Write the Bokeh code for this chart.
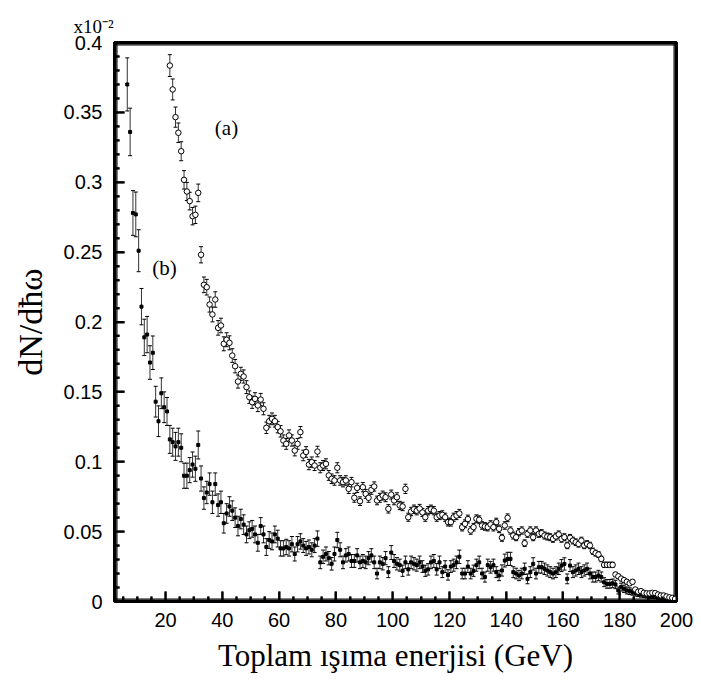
from bokeh.plotting import figure
from bokeh.models import Range1d, FixedTicker, Label, Title
from bokeh.embed import file_html
from bokeh.resources import INLINE

# ---------------- data (values in units of 10^-2) ----------------
a_energy = [21.5, 22.5, 23.5, 24.5, 25.5, 26.5, 27.5, 28.5, 29.5, 30.5,
            31.5, 32.5, 33.5, 34.5, 35.5, 36.5, 37.5, 38.5, 39.5, 40.5,
            41.5, 42.5, 43.5, 44.5, 45.5, 46.5, 47.5, 48.5, 49.5, 50.5,
            51.5, 52.5, 53.5, 54.5, 55.5, 56.5, 57.5, 58.5, 59.5, 60.5,
            61.5, 62.5, 63.5, 64.5, 65.5, 66.5, 67.5, 68.5, 69.5, 70.5,
            71.5, 72.5, 73.5, 74.5, 75.5, 76.5, 77.5, 78.5, 79.5, 80.5,
            81.5, 82.5, 83.5, 84.5, 85.5, 86.5, 87.5, 88.5, 89.5, 90.5,
            91.5, 92.5, 93.5, 94.5, 95.5, 96.5, 97.5, 98.5, 99.5, 100.5,
            101.5, 102.5, 103.5, 104.5, 105.5, 106.5, 107.5, 108.5, 109.5, 110.5,
            111.5, 112.5, 113.5, 114.5, 115.5, 116.5, 117.5, 118.5, 119.5, 120.5,
            121.5, 122.5, 123.5, 124.5, 125.5, 126.5, 127.5, 128.5, 129.5, 130.5,
            131.5, 132.5, 133.5, 134.5, 135.5, 136.5, 137.5, 138.5, 139.5, 140.5,
            141.5, 142.5, 143.5, 144.5, 145.5, 146.5, 147.5, 148.5, 149.5, 150.5,
            151.5, 152.5, 153.5, 154.5, 155.5, 156.5, 157.5, 158.5, 159.5, 160.5,
            161.5, 162.5, 163.5, 164.5, 165.5, 166.5, 167.5, 168.5, 169.5, 170.5,
            171.5, 172.5, 173.5, 174.5, 175.5, 176.5, 177.5, 178.5, 179.5, 180.5,
            181.5, 182.5, 183.5, 184.5, 185.5, 186.5, 187.5, 188.5, 189.5, 190.5,
            191.5, 192.5, 193.5, 194.5, 195.5, 196.5, 197.5, 198.5, 199.5]
a_value = [0.3835, 0.3664, 0.3466, 0.3354, 0.3222, 0.3017, 0.2934, 0.2865, 0.2757, 0.2767,
           0.2924, 0.2481, 0.2266, 0.2249, 0.2125, 0.2054, 0.2161, 0.1958, 0.1975, 0.1844,
           0.1873, 0.1851, 0.1760, 0.1684, 0.1574, 0.1629, 0.1610, 0.1534, 0.1462, 0.1426,
           0.1450, 0.1403, 0.1445, 0.1379, 0.1243, 0.1290, 0.1307, 0.1290, 0.1248, 0.1218,
           0.1152, 0.1128, 0.1188, 0.1152, 0.1080, 0.1128, 0.1212, 0.1045, 0.1070, 0.0980,
           0.0997, 0.0973, 0.1073, 0.0957, 0.0973, 0.0985, 0.0902, 0.0878, 0.0866, 0.0957,
           0.0866, 0.0854, 0.0866, 0.0806, 0.0854, 0.0742, 0.0813, 0.0718, 0.0818, 0.0770,
           0.0742, 0.0799, 0.0823, 0.0723, 0.0742, 0.0758, 0.0746, 0.0663, 0.0765, 0.0723,
           0.0746, 0.0687, 0.0680, 0.0806, 0.0603, 0.0644, 0.0660, 0.0650, 0.0665, 0.0637,
           0.0603, 0.0650, 0.0660, 0.0650, 0.0603, 0.0615, 0.0620, 0.0603, 0.0568, 0.0568,
           0.0603, 0.0615, 0.0630, 0.0532, 0.0556, 0.0590, 0.0508, 0.0532, 0.0592, 0.0585,
           0.0544, 0.0537, 0.0532, 0.0551, 0.0532, 0.0568, 0.0520, 0.0456, 0.0544, 0.0599,
           0.0508, 0.0472, 0.0460, 0.0496, 0.0508, 0.0417, 0.0484, 0.0508, 0.0460, 0.0508,
           0.0484, 0.0489, 0.0472, 0.0465, 0.0460, 0.0448, 0.0465, 0.0480, 0.0448, 0.0460,
           0.0401, 0.0456, 0.0436, 0.0424, 0.0412, 0.0436, 0.0401, 0.0412, 0.0401, 0.0360,
           0.0346, 0.0336, 0.0305, 0.0262, 0.0262, 0.0262, 0.0262, 0.0193, 0.0180, 0.0164,
           0.0153, 0.0141, 0.0130, 0.0141, 0.0086, 0.0070, 0.0074, 0.0062, 0.0058, 0.0058,
           0.0062, 0.0060, 0.0050, 0.0043, 0.0043, 0.0036, 0.0030, 0.0026, 0.0019]
a_error = [0.0078, 0.0075, 0.0072, 0.0070, 0.0068, 0.0066, 0.0065, 0.0063, 0.0062, 0.0062,
           0.0063, 0.0058, 0.0056, 0.0056, 0.0054, 0.0053, 0.0055, 0.0052, 0.0052, 0.0050,
           0.0050, 0.0050, 0.0049, 0.0048, 0.0047, 0.0047, 0.0047, 0.0046, 0.0045, 0.0044,
           0.0044, 0.0044, 0.0044, 0.0043, 0.0041, 0.0042, 0.0042, 0.0042, 0.0041, 0.0041,
           0.0040, 0.0039, 0.0040, 0.0040, 0.0038, 0.0039, 0.0040, 0.0038, 0.0038, 0.0037,
           0.0037, 0.0036, 0.0038, 0.0036, 0.0036, 0.0036, 0.0035, 0.0034, 0.0034, 0.0036,
           0.0034, 0.0034, 0.0034, 0.0033, 0.0034, 0.0032, 0.0033, 0.0031, 0.0033, 0.0032,
           0.0032, 0.0032, 0.0033, 0.0031, 0.0032, 0.0032, 0.0032, 0.0030, 0.0032, 0.0031,
           0.0032, 0.0030, 0.0030, 0.0033, 0.0029, 0.0030, 0.0030, 0.0030, 0.0030, 0.0029,
           0.0029, 0.0030, 0.0030, 0.0030, 0.0029, 0.0029, 0.0029, 0.0029, 0.0028, 0.0028,
           0.0029, 0.0029, 0.0029, 0.0027, 0.0028, 0.0028, 0.0027, 0.0027, 0.0028, 0.0028,
           0.0027, 0.0027, 0.0027, 0.0027, 0.0027, 0.0028, 0.0027, 0.0025, 0.0027, 0.0028,
           0.0026, 0.0025, 0.0025, 0.0026, 0.0026, 0.0024, 0.0025, 0.0026, 0.0025, 0.0026,
           0.0025, 0.0025, 0.0025, 0.0025, 0.0025, 0.0024, 0.0025, 0.0025, 0.0024, 0.0025,
           0.0023, 0.0024, 0.0024, 0.0024, 0.0023, 0.0024, 0.0023, 0.0023, 0.0023, 0.0022,
           0.0021, 0.0021, 0.0020, 0.0019, 0.0019, 0.0019, 0.0019, 0.0016, 0.0016, 0.0015,
           0.0014, 0.0014, 0.0013, 0.0014, 0.0011, 0.0010, 0.0010, 0.0009, 0.0009, 0.0009,
           0.0009, 0.0009, 0.0008, 0.0008, 0.0008, 0.0007, 0.0007, 0.0006, 0.0006]

b_energy = [6.5, 7.5, 8.5, 9.5, 10.5, 11.5, 12.5, 13.5, 14.5, 15.5,
            16.5, 17.5, 18.5, 19.5, 20.5, 21.5, 22.5, 23.5, 24.5, 25.5,
            26.5, 27.5, 28.5, 29.5, 30.5, 31.5, 32.5, 33.5, 34.5, 35.5,
            36.5, 37.5, 38.5, 39.5, 40.5, 41.5, 42.5, 43.5, 44.5, 45.5,
            46.5, 47.5, 48.5, 49.5, 50.5, 51.5, 52.5, 53.5, 54.5, 55.5,
            56.5, 57.5, 58.5, 59.5, 60.5, 61.5, 62.5, 63.5, 64.5, 65.5,
            66.5, 67.5, 68.5, 69.5, 70.5, 71.5, 72.5, 73.5, 74.5, 75.5,
            76.5, 77.5, 78.5, 79.5, 80.5, 81.5, 82.5, 83.5, 84.5, 85.5,
            86.5, 87.5, 88.5, 89.5, 90.5, 91.5, 92.5, 93.5, 94.5, 95.5,
            96.5, 97.5, 98.5, 99.5, 100.5, 101.5, 102.5, 103.5, 104.5, 105.5,
            106.5, 107.5, 108.5, 109.5, 110.5, 111.5, 112.5, 113.5, 114.5, 115.5,
            116.5, 117.5, 118.5, 119.5, 120.5, 121.5, 122.5, 123.5, 124.5, 125.5,
            126.5, 127.5, 128.5, 129.5, 130.5, 131.5, 132.5, 133.5, 134.5, 135.5,
            136.5, 137.5, 138.5, 139.5, 140.5, 141.5, 142.5, 143.5, 144.5, 145.5,
            146.5, 147.5, 148.5, 149.5, 150.5, 151.5, 152.5, 153.5, 154.5, 155.5,
            156.5, 157.5, 158.5, 159.5, 160.5, 161.5, 162.5, 163.5, 164.5, 165.5,
            166.5, 167.5, 168.5, 169.5, 170.5, 171.5, 172.5, 173.5, 174.5, 175.5,
            176.5, 177.5, 178.5, 179.5, 180.5, 181.5, 182.5, 183.5, 184.5, 185.5,
            186.5, 187.5, 188.5, 189.5, 190.5, 191.5, 192.5, 193.5, 194.5, 195.5,
            196.5, 197.5, 198.5]
b_value = [0.370, 0.336, 0.278, 0.277, 0.251, 0.211, 0.189, 0.191, 0.171, 0.178,
           0.143, 0.129, 0.149, 0.139, 0.136, 0.116, 0.114, 0.111, 0.114, 0.110,
           0.090, 0.090, 0.094, 0.098, 0.095, 0.112, 0.088, 0.074, 0.078, 0.084,
           0.071, 0.084, 0.069, 0.071, 0.056, 0.063, 0.068, 0.065, 0.060, 0.054,
           0.059, 0.055, 0.048, 0.051, 0.052, 0.048, 0.042, 0.054, 0.048, 0.039,
           0.044, 0.043, 0.048, 0.045, 0.038, 0.038, 0.039, 0.038, 0.041, 0.034,
           0.041, 0.043, 0.040, 0.038, 0.039, 0.037, 0.040, 0.045, 0.028, 0.032,
           0.034, 0.031, 0.027, 0.034, 0.044, 0.037, 0.028, 0.033, 0.034, 0.029,
           0.029, 0.033, 0.028, 0.029, 0.028, 0.031, 0.033, 0.028, 0.020, 0.028,
           0.027, 0.031, 0.021, 0.035, 0.029, 0.027, 0.026, 0.022, 0.028, 0.023,
           0.028, 0.027, 0.026, 0.028, 0.025, 0.022, 0.023, 0.028, 0.029, 0.023,
           0.028, 0.021, 0.025, 0.019, 0.025, 0.026, 0.028, 0.032, 0.020, 0.020,
           0.025, 0.020, 0.022, 0.026, 0.028, 0.020, 0.0175, 0.026, 0.0245, 0.026,
           0.021, 0.0186, 0.0222, 0.0293, 0.0305, 0.0305, 0.021, 0.020, 0.0186, 0.020,
           0.0234, 0.0162, 0.021, 0.0269, 0.020, 0.0245, 0.0245, 0.0234, 0.0222, 0.021,
           0.020, 0.021, 0.0234, 0.0257, 0.0269, 0.0162, 0.0257, 0.021, 0.0222, 0.0234,
           0.021, 0.0222, 0.0234, 0.020, 0.0175, 0.0175, 0.0186, 0.0175, 0.0138, 0.0126,
           0.0126, 0.013, 0.0122, 0.0079, 0.0103, 0.0091, 0.0079, 0.0074, 0.0067, 0.006,
           0.0055, 0.005, 0.0048, 0.0043, 0.004, 0.0038, 0.0036, 0.0031, 0.0028, 0.0024,
           0.002, 0.0016, 0.0012]
b_error = [0.019, 0.017, 0.016, 0.016, 0.015, 0.013, 0.013, 0.013, 0.012, 0.012,
           0.011, 0.011, 0.011, 0.011, 0.010, 0.010, 0.010, 0.010, 0.010, 0.010,
           0.009, 0.009, 0.009, 0.009, 0.009, 0.010, 0.009, 0.008, 0.008, 0.008,
           0.008, 0.008, 0.008, 0.008, 0.007, 0.007, 0.007, 0.007, 0.007, 0.007,
           0.007, 0.007, 0.006, 0.006, 0.006, 0.006, 0.006, 0.006, 0.006, 0.006,
           0.006, 0.006, 0.006, 0.006, 0.0055, 0.0055, 0.0055, 0.0055, 0.0055, 0.005,
           0.0055, 0.0055, 0.005, 0.005, 0.005, 0.005, 0.005, 0.0055, 0.0045, 0.0048,
           0.005, 0.0048, 0.0045, 0.005, 0.0055, 0.005, 0.0045, 0.0048, 0.005, 0.0046,
           0.0046, 0.0048, 0.0045, 0.0046, 0.0045, 0.0047, 0.0048, 0.0045, 0.0038, 0.0045,
           0.0044, 0.0047, 0.0039, 0.0050, 0.0046, 0.0044, 0.0043, 0.0040, 0.0045, 0.0041,
           0.0045, 0.0044, 0.0043, 0.0045, 0.0042, 0.0040, 0.0041, 0.0045, 0.0046, 0.0041,
           0.0045, 0.0039, 0.0042, 0.0037, 0.0042, 0.0043, 0.0045, 0.0048, 0.0038, 0.0038,
           0.0042, 0.0038, 0.0040, 0.0043, 0.0045, 0.0038, 0.0036, 0.0043, 0.0042, 0.0043,
           0.0039, 0.0037, 0.0040, 0.0046, 0.0047, 0.0047, 0.0039, 0.0038, 0.0037, 0.0038,
           0.0041, 0.0035, 0.0039, 0.0044, 0.0038, 0.0042, 0.0042, 0.0041, 0.0040, 0.0039,
           0.0038, 0.0039, 0.0041, 0.0043, 0.0044, 0.0035, 0.0043, 0.0039, 0.0040, 0.0041,
           0.0039, 0.0040, 0.0041, 0.0038, 0.0036, 0.0036, 0.0037, 0.0036, 0.0032, 0.0031,
           0.0031, 0.0031, 0.0030, 0.0025, 0.0028, 0.0026, 0.0025, 0.0024, 0.0022, 0.0021,
           0.0020, 0.0019, 0.0019, 0.0018, 0.0017, 0.0017, 0.0016, 0.0015, 0.0014, 0.0013,
           0.0012, 0.0011, 0.0009]

x_ticks = [20, 40, 60, 80, 100, 120, 140, 160, 180, 200]
x_tick_labels = ["20", "40", "60", "80", "100", "120", "140", "160", "180", "200"]
x_minor_ticks = [5, 10, 15, 25, 30, 35, 45, 50, 55, 65, 70, 75, 85, 90, 95,
                 105, 110, 115, 125, 130, 135, 145, 150, 155, 165, 170, 175,
                 185, 190, 195]
y_ticks = [0.0, 0.05, 0.1, 0.15, 0.2, 0.25, 0.3, 0.35, 0.4]
y_tick_labels = ["0", "0.05", "0.1", "0.15", "0.2", "0.25", "0.3", "0.35", "0.4"]
y_minor_ticks = [0.01, 0.02, 0.03, 0.04, 0.06, 0.07, 0.08, 0.09, 0.11, 0.12,
                 0.13, 0.14, 0.16, 0.17, 0.18, 0.19, 0.21, 0.22, 0.23, 0.24,
                 0.26, 0.27, 0.28, 0.29, 0.31, 0.32, 0.33, 0.34, 0.36, 0.37,
                 0.38, 0.39]

x_title = "Toplam ışıma enerjisi (GeV)"
y_title = "dN/dħω"
scale_note = "x10⁻²"

# ---------------- figure ----------------
W, H = 701, 681
BL, BR, BT, BB = 114, 25, 42, 80
x_lo, x_hi = 2, 200
y_lo, y_hi = 0.0, 0.4

p = figure(width=W, height=H, output_backend="svg", toolbar_location=None,
           x_range=Range1d(x_lo, x_hi), y_range=Range1d(y_lo, y_hi),
           min_border_left=BL, min_border_right=BR,
           min_border_top=BT, min_border_bottom=BB)
p.xgrid.visible = False
p.ygrid.visible = False
p.outline_line_color = "black"
p.outline_line_width = 3

p.xaxis.ticker = FixedTicker(ticks=x_ticks, minor_ticks=x_minor_ticks)
p.yaxis.ticker = FixedTicker(ticks=y_ticks, minor_ticks=y_minor_ticks)
p.xaxis.major_label_overrides = dict(zip(x_ticks, x_tick_labels))
p.yaxis.major_label_overrides = dict(zip(y_ticks, y_tick_labels))

for ax in (p.xaxis, p.yaxis):
    ax.axis_line_width = 3
    ax.axis_line_color = "black"
    ax.major_tick_in = 10
    ax.major_tick_out = 0
    ax.minor_tick_in = 5
    ax.minor_tick_out = 0
    ax.major_tick_line_width = 2
    ax.minor_tick_line_width = 2
    ax.major_tick_line_color = "black"
    ax.minor_tick_line_color = "black"
    ax.major_label_text_font = "Liberation Sans"
    ax.major_label_text_font_size = "20px"
    ax.major_label_text_color = "black"
    ax.axis_label_text_font = "Liberation Serif"
    ax.axis_label_text_font_style = "normal"
    ax.axis_label_text_color = "black"

p.xaxis.axis_label_text_font_size = "31px"
p.yaxis.axis_label_text_font_size = "34px"
p.yaxis.major_label_standoff = 12
p.xaxis.major_label_standoff = 11
p.xaxis.axis_label = x_title
p.yaxis.axis_label = y_title
p.xaxis.axis_label_standoff = 8
p.yaxis.axis_label_standoff = 12

note = Title(text=scale_note, align="left", offset=-41, vertical_align="top",
             standoff=8, text_font="Liberation Serif", text_font_size="19px",
             text_font_style="normal", text_color="black")
p.add_layout(note, "above")

# ---------------- frame and inward ticks, built from 1px strokes ----------------
dx = (x_hi - x_lo) / (W - BL - BR)   # data units per pixel along x
dy = (y_hi - y_lo) / (H - BT - BB)   # data units per pixel along y
offs = [0.5, 1.5, 2.5]
fx0, fy0, fx1, fy1 = [], [], [], []
for o in offs:
    # left, right, bottom, top edges
    fx0 += [x_lo + o * dx, x_hi - o * dx, x_lo, x_lo]
    fx1 += [x_lo + o * dx, x_hi - o * dx, x_hi, x_hi]
    fy0 += [y_lo, y_lo, y_lo + o * dy, y_hi - o * dy]
    fy1 += [y_hi, y_hi, y_lo + o * dy, y_hi - o * dy]
p.segment(x0=fx0, y0=fy0, x1=fx1, y1=fy1, line_color="black", line_width=1)

tx0, ty0, tx1, ty1 = [], [], [], []
for s in (-0.5, 0.5):
    for t in y_ticks:
        tx0.append(x_lo); tx1.append(x_lo + 10 * dx)
        ty0.append(t + s * dy); ty1.append(t + s * dy)
    for t in y_minor_ticks:
        tx0.append(x_lo); tx1.append(x_lo + 5 * dx)
        ty0.append(t + s * dy); ty1.append(t + s * dy)
    for t in x_ticks:
        tx0.append(t + s * dx); tx1.append(t + s * dx)
        ty0.append(y_lo); ty1.append(y_lo + 10 * dy)
    for t in x_minor_ticks:
        tx0.append(t + s * dx); tx1.append(t + s * dx)
        ty0.append(y_lo); ty1.append(y_lo + 5 * dy)
p.segment(x0=tx0, y0=ty0, x1=tx1, y1=ty1, line_color="black", line_width=1)

# ---------------- error bars ----------------
a_hi = [v + e for v, e in zip(a_value, a_error)]
a_lo = [v - e for v, e in zip(a_value, a_error)]
b_hi = [v + e for v, e in zip(b_value, b_error)]
b_lo = [v - e for v, e in zip(b_value, b_error)]

for xs, lo, hi in ((b_energy, b_lo, b_hi), (a_energy, a_lo, a_hi)):
    p.segment(x0=xs, y0=lo, x1=xs, y1=hi, line_color="#333333", line_width=1)
    p.scatter(x=xs, y=hi, marker="dash", size=4, line_color="black", line_width=1)
    p.scatter(x=xs, y=lo, marker="dash", size=4, line_color="black", line_width=1)

# ---------------- markers ----------------
p.scatter(x=b_energy, y=b_value, marker="square", size=3,
          fill_color="black", line_color="black", line_width=1)
p.scatter(x=a_energy, y=a_value, marker="circle", size=5.5,
          fill_color="white", line_color="black", line_width=1)

# ---------------- annotations ----------------
p.add_layout(Label(x=41.45, y=0.3385, text="(a)", text_font="Liberation Serif",
                   text_font_size="21px", text_align="center", text_baseline="middle",
                   text_color="black"))
p.add_layout(Label(x=19.6, y=0.2386, text="(b)", text_font="Liberation Serif",
                   text_font_size="21px", text_align="center", text_baseline="middle",
                   text_color="black"))

open("out.html", "w").write(file_html(p, INLINE))
